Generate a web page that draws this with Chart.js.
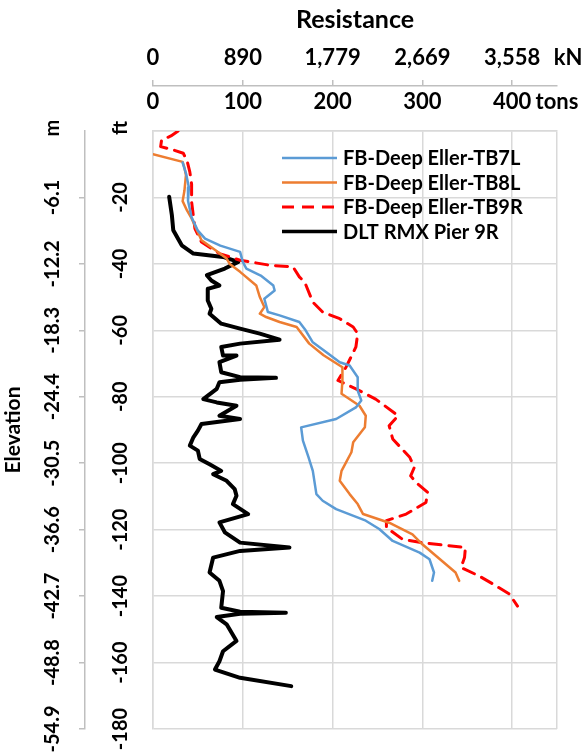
<!DOCTYPE html>
<html>
<head>
<meta charset="utf-8">
<script src="https://cdn.jsdelivr.net/npm/chart.js@4.4.1/dist/chart.umd.min.js"></script>
<style>
  html, body { margin: 0; padding: 0; background: #fff; }
  canvas { display: block; }
</style>
</head>
<body>
<canvas id="pileChart" width="585" height="754"></canvas>
<script>
// resistance (tons) vs elevation (ft)
const tb7lTons = [33, 37, 40, 39, 43, 50, 58, 75, 97, 100, 104, 120, 134, 135.5, 124, 128, 141, 163, 170, 178, 195, 208, 219, 228, 228, 232, 226, 204, 165, 167, 173, 178, 182, 189, 204, 237, 252, 267, 297, 308, 313, 311];
const tb7lFt   = [-9.5, -13, -17, -21, -26, -30, -32.4, -34.5, -36.4, -39.4, -41.4, -43.5, -46.5, -48, -50.5, -54.5, -55.5, -57.5, -60, -63.6, -67, -69.6, -70.6, -74.1, -78.1, -81.1, -83.2, -86.7, -89.2, -93.2, -98, -102.3, -109.3, -111.3, -113.8, -117.3, -119.8, -123.4, -126.9, -128.9, -132.9, -135.4];

const tb8lTons = [0, 33, 35, 36.7, 35, 33, 38, 43, 54, 70, 82, 85.5, 97, 115, 119, 124, 119, 126, 141, 160, 174, 190, 211, 211, 210, 230, 237, 236, 223, 221, 210, 208, 219, 228, 234, 263, 289, 300, 337, 341];
const tb8lFt   = [-7, -9.3, -11, -13.3, -18, -21.1, -24, -26.3, -32.9, -36, -38.4, -40, -42.4, -46.5, -50, -53, -55, -56, -57.5, -59, -64, -67.5, -71.1, -75.1, -79.1, -82.7, -85.7, -89.2, -93.7, -96.7, -102.3, -105.3, -109.3, -112.3, -115.3, -117.9, -121.4, -124.4, -132.9, -135.4];

const tb9rTons = [28, 20, 9.6, 8.5, 22.6, 33.7, 38, 41, 43, 43, 46.7, 54, 74, 97, 130, 156, 163, 169, 178, 189, 208, 223, 228, 226, 215, 206, 226, 248, 273, 263, 267, 286, 291, 287, 293, 306, 304, 282, 260, 260, 278, 300, 348, 347, 343, 363, 382, 397, 406];
const tb9rFt   = [0, -1.5, -2.7, -4.7, -5.7, -6.7, -9, -12.3, -16, -21.3, -29.4, -33.4, -36.9, -38.9, -40.4, -40.9, -43.9, -45.5, -51.5, -54.5, -56.5, -59, -61, -65, -71.1, -75.1, -77.6, -80.7, -85.7, -88.7, -92.7, -98.2, -101.3, -103.8, -105.8, -108.8, -111.8, -115.3, -117.3, -119.4, -122.9, -123.9, -125.4, -128.4, -131.4, -133.9, -136.9, -139.4, -143];

const dltTons = [18, 21, 22.6, 32, 45, 78, 95, 80, 60, 65, 74, 61, 61, 65, 63, 76, 97, 119, 141, 97, 76, 78, 93, 74, 76, 97, 137, 97, 74, 71, 56, 71, 93, 74, 97, 54, 50, 45, 41, 50, 52, 63, 76, 67, 82, 91, 93, 89, 106, 74, 80, 97, 152, 97, 67, 63, 74, 78, 76, 97, 148, 97, 71, 82, 93, 78, 74, 69, 97, 154];
const dltFt   = [-19.8, -25.3, -29.9, -34.4, -36.9, -37.9, -39.4, -41.4, -43.4, -45, -46.5, -47.5, -51, -53.5, -55, -58, -59.5, -61, -62.8, -64, -65, -67.6, -67.6, -69.6, -72.6, -74.1, -74.3, -74.9, -75.6, -77.6, -80.7, -81.7, -82.7, -85.7, -86.7, -88.2, -90.2, -92.2, -94.7, -96.2, -98.7, -100.3, -102.3, -103.3, -105.3, -107.8, -109.8, -112.3, -115.3, -117.8, -120.8, -123.9, -125.4, -126.4, -128.4, -132.9, -135.4, -138.5, -143.5, -144.7, -145, -145.3, -146.3, -148.5, -153.5, -156.6, -159.6, -162.1, -164.6, -167.1];

const seriesNames = ['FB-Deep Eller-TB7L', 'FB-Deep Eller-TB8L', 'FB-Deep Eller-TB9R', 'DLT RMX Pier 9R'];

const tonsTicks  = [0, 100, 200, 300, 400, 450];
const tonsLabels = ['0', '100', '200', '300', '400', ''];
const kNTicks    = [0, 100, 200, 300, 400];
const kNLabels   = ['0', '890', '1,779', '2,669', '3,558'];
const ftTicks    = [0, -20, -40, -60, -80, -100, -120, -140, -160, -180];
const ftLabels   = ['ft', '-20', '-40', '-60', '-80', '-100', '-120', '-140', '-160', '-180'];
const mLabels    = ['m', '-6.1', '-12.2', '-18.3', '-24.4', '-30.5', '-36.6', '-42.7', '-48.8', '-54.9'];

const FONT = 'Lato, "Open Sans", sans-serif';
const GRID = '#d9d9d9';
const AXIS = '#bfbfbf';

function pts(xs, ys) {
    return xs.map((x, i) => ({ x: x, y: ys[i] }));
}

// rotated y labels, unit labels and the legend inside the plot
const extras = {
    id: 'extras',
    afterDraw(chart) {
        const ctx = chart.ctx;
        const y = chart.scales.y;
        const m = chart.scales.m;
        const x = chart.scales.x;
        const area = chart.chartArea;
        ctx.save();
        ctx.fillStyle = '#000';
        ctx.textAlign = 'center';
        ctx.textBaseline = 'middle';
        ctx.font = 'bold 20px ' + FONT;
        ftTicks.forEach((v, i) => {
            const py = y.getPixelForValue(v) - (i === 0 ? 3 : 0);
            ctx.save();
            ctx.translate(y.right - 32, py);
            ctx.rotate(-Math.PI / 2);
            ctx.fillText(ftLabels[i], 0, 0);
            ctx.restore();
            ctx.save();
            ctx.translate(m.right - 32, py);
            ctx.rotate(-Math.PI / 2);
            ctx.fillText(mLabels[i], 0, 0);
            ctx.restore();
        });

        ctx.font = 'bold 22px ' + FONT;
        const xEnd = x.getPixelForValue(450);
        ctx.fillText('kN', xEnd + 11, 58);
        ctx.fillText('tons', xEnd, 102);

        // legend
        ctx.font = 'bold 20px ' + FONT;
        ctx.textAlign = 'left';
        chart.data.datasets.forEach((ds, i) => {
            const ly = area.top + 27 + i * 24.5;
            ctx.beginPath();
            ctx.strokeStyle = ds.borderColor;
            ctx.lineWidth = Math.min(ds.borderWidth, 3.5);
            ctx.setLineDash(ds.borderDash || []);
            ctx.moveTo(area.left + 129, ly);
            ctx.lineTo(area.left + 184, ly);
            ctx.stroke();
            ctx.setLineDash([]);
            ctx.fillText(ds.label, area.left + 190, ly + 1);
        });
        ctx.restore();
    }
};

const ctx = document.getElementById('pileChart').getContext('2d');
new Chart(ctx, {
    type: 'scatter',
    data: {
        datasets: [
            {
                label: seriesNames[0],
                data: pts(tb7lTons, tb7lFt),
                borderColor: '#5b9bd5',
                borderWidth: 2.5
            },
            {
                label: seriesNames[1],
                data: pts(tb8lTons, tb8lFt),
                borderColor: '#ed7d31',
                borderWidth: 2.5
            },
            {
                label: seriesNames[2],
                data: pts(tb9rTons, tb9rFt),
                borderColor: '#ff0000',
                borderWidth: 3,
                borderDash: [12, 8]
            },
            {
                label: seriesNames[3],
                data: pts(dltTons, dltFt),
                borderColor: '#000000',
                borderWidth: 4
            }
        ]
    },
    options: {
        responsive: false,
        animation: false,
        devicePixelRatio: 1,
        showLine: true,
        layout: { padding: { left: 0, right: 28, top: 0, bottom: 25 } },
        elements: {
            point: { radius: 0, hoverRadius: 0 },
            line: { tension: 0, borderJoinStyle: 'round', borderCapStyle: 'round', fill: false }
        },
        plugins: {
            legend: { display: false },
            tooltip: { enabled: false }
        },
        scales: {
            x: {
                type: 'linear',
                position: 'top',
                weight: 0,
                min: 0,
                max: 450,
                afterBuildTicks: s => { s.ticks = tonsTicks.map(v => ({ value: v })); },
                afterFit: s => { s.height = 45; },
                grid: { color: GRID, lineWidth: 1.5, drawTicks: false },
                border: { color: GRID, width: 1.5 },
                ticks: {
                    padding: 16,
                    color: '#000',
                    maxRotation: 0,
                    autoSkip: false,
                    font: { family: FONT, size: 22, weight: 'bold' },
                    callback: (v, i) => tonsLabels[i]
                }
            },
            kN: {
                type: 'linear',
                position: 'top',
                weight: 1,
                min: 0,
                max: 450,
                afterBuildTicks: s => { s.ticks = kNTicks.map(v => ({ value: v })); },
                afterFit: s => { s.height = 86; },
                grid: { drawOnChartArea: false, drawTicks: true, tickLength: 6, color: AXIS, lineWidth: 1.5 },
                border: { color: AXIS, width: 1.5 },
                ticks: {
                    padding: 9,
                    color: '#000',
                    maxRotation: 0,
                    autoSkip: false,
                    font: { family: FONT, size: 22, weight: 'bold' },
                    callback: (v, i) => kNLabels[i]
                },
                title: {
                    display: true,
                    text: 'Resistance',
                    color: '#000',
                    font: { family: FONT, size: 25, weight: 'bold' },
                    padding: { top: 5, bottom: 0 }
                }
            },
            y: {
                type: 'linear',
                position: 'left',
                weight: 0,
                min: -180,
                max: 0,
                afterBuildTicks: s => { s.ticks = ftTicks.map(v => ({ value: v })); },
                afterFit: s => { s.width = 68; },
                grid: { color: GRID, lineWidth: 1.5, drawTicks: false },
                border: { color: GRID, width: 1.5 },
                ticks: { display: false }
            },
            m: {
                type: 'linear',
                position: 'left',
                weight: 1,
                min: -180,
                max: 0,
                afterBuildTicks: s => { s.ticks = ftTicks.slice(1).map(v => ({ value: v })); },
                afterFit: s => { s.width = 85; },
                grid: { drawOnChartArea: false, drawTicks: true, tickLength: 6, color: AXIS, lineWidth: 1.5 },
                border: { color: AXIS, width: 1.5 },
                ticks: { display: false },
                title: {
                    display: true,
                    text: 'Elevation',
                    color: '#000',
                    font: { family: FONT, size: 21, weight: 'bold' },
                    padding: { top: 1, bottom: 0 }
                }
            }
        }
    },
    plugins: [extras]
});
</script>
</body>
</html>
